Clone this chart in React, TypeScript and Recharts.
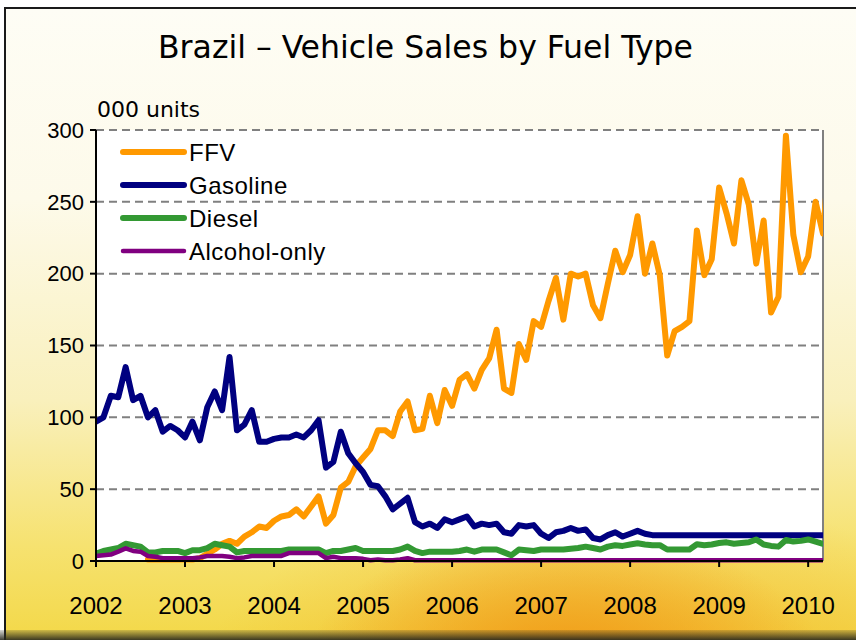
import React from "react";
import { LineChart, Line, XAxis, YAxis, CartesianGrid, ReferenceLine } from "recharts";

// Monthly data, Jan 2002 (index 0) .. Apr 2010 (index 99), thousand units
const ffv: (number | null)[] = [
  null, null, null, null, null, null, null, 1, 1, 1,
  1, 1, 1, 1, 2, 5, 8, 12, 14, 12,
  17, 20, 24, 23, 28, 31, 32, 36, 31, 38,
  45, 26, 32, 51, 55, 66, 72, 78, 91, 91,
  87, 104, 111, 91, 92, 115, 96, 119, 108, 126,
  130, 120, 133, 141, 161, 120, 117, 151, 140, 167,
  163, 181, 197, 168, 200, 198, 200, 178, 169, 193,
  216, 201, 213, 240, 200, 221, 199, 143, 160, 163,
  167, 230, 199, 210, 260, 242, 221, 265, 248, 207,
  237, 173, 184, 296, 227, 201, 212, 250, 228, 290,
];

const gasoline: number[] = [
  97, 100, 115, 114, 135, 112, 115, 100, 105, 90,
  94, 91, 86, 97, 84, 107, 118, 105, 142, 91,
  95, 105, 83, 83, 85, 86, 86, 88, 86, 91,
  98, 65, 69, 90, 75, 68, 62, 53, 52, 45,
  36, 40, 44, 27, 24, 26, 23, 29, 27, 29,
  31, 24, 26, 25, 26, 20, 19, 25, 24, 25,
  19, 16, 20, 21, 23, 21, 22, 16, 15, 18,
  20, 17, 19, 21, 19, 18, 18, 18, 18, 18,
  18, 18, 18, 18, 18, 18, 18, 18, 18, 18,
  18, 18, 18, 18, 18, 18, 18, 18, 18, 18,
];

const diesel: number[] = [
  5, 7, 8, 9, 12, 11, 10, 6, 6, 7,
  7, 7, 5.5, 7.5, 7.5, 9, 12, 11, 10, 6,
  7, 7, 7, 7, 7, 7, 8, 8, 8, 8,
  8, 5.5, 7, 7, 8, 9, 7, 7, 7, 7,
  7, 8, 10, 7, 5.5, 6.5, 6.5, 6.5, 6.5, 7,
  8, 6.5, 8, 8, 8, 6, 4, 8, 7.5, 7,
  8, 8, 8, 8, 8.6, 9, 10, 9, 8, 10,
  11, 10.5, 11.5, 12.3, 11.5, 11, 11, 8, 8, 8,
  8, 11.6, 11, 11.5, 12.5, 13, 12, 12.5, 13, 15,
  11.5, 10.5, 10, 14.6, 13.5, 14, 15, 13.5, 12, 12,
];

const alcohol: number[] = [
  3.5, 4, 4.5, 6.5, 8.8, 7, 6.5, 3.5, 3, 2,
  2, 2, 2, 2, 2.5, 3.5, 3.5, 3.5, 3, 2,
  2.5, 3.5, 3.5, 3.5, 3.5, 3.5, 5.5, 5.5, 5.5, 5.5,
  5.5, 2, 3, 2, 2, 2, 1.5, 0.5, 1, 0.5,
  0.5, 1, 2, 0.5, 0.5, 0.5, 0.5, 0.5, 0.5, 0.5,
  0.5, 0.5, 0.5, 0.5, 0.5, 0.5, 0.5, 0.5, 0.5, 0.5,
  0.5, 0.5, 0.5, 0.5, 0.5, 0.5, 0.5, 0.5, 0.5, 0.5,
  0.5, 0.5, 0.5, 0.5, 0.5, 0.5, 0.5, 0.5, 0.5, 0.5,
  0.5, 0.5, 0.5, 0.5, 0.5, 0.5, 0.5, 0.5, 0.5, 0.5,
  0.5, 0.5, 0.5, 0.5, 0.5, 0.5, 0.5, 0.5, 0.5, 0.5,
];

const yearLabels = ["2002", "2003", "2004", "2005", "2006", "2007", "2008", "2009", "2010"];
const yTicks = [0, 50, 100, 150, 200, 250, 300];
const lastMonthIndex = 98; // Mar 2010 at the right edge of the plot

const series = [
  { key: "ffv", name: "FFV", color: "#FF9900", width: 6 },
  { key: "gasoline", name: "Gasoline", color: "#000080", width: 6 },
  { key: "diesel", name: "Diesel", color: "#339933", width: 6 },
  { key: "alcohol", name: "Alcohol-only", color: "#800080", width: 4.5 },
];

const data = gasoline.map((g, i) => ({
  m: i,
  ffv: ffv[i],
  gasoline: g,
  diesel: diesel[i],
  alcohol: alcohol[i],
}));

const xTicks = yearLabels.map((_, i) => i * 12);
const FONT = "'Liberation Sans', Arial, sans-serif";

export default function App() {
  return (
    <div
      style={{
        position: "absolute",
        left: 0,
        top: 0,
        width: 856,
        height: 640,
        overflow: "hidden",
        background: "#ffffff",
      }}
    >
      {/* slide background */}
      <div
        style={{
          position: "absolute",
          left: 4,
          top: 7,
          right: 0,
          bottom: 0,
          borderTop: "2px solid #1a1a1a",
          borderLeft: "2px solid #1a1a1a",
          background:
            "radial-gradient(ellipse 260px 140px at 560px 660px, rgba(240,150,20,0.95), rgba(240,160,30,0) 100%)," +
            "radial-gradient(ellipse 420px 220px at 600px 700px, rgba(244,180,40,0.9), rgba(244,190,50,0) 100%)," +
            "linear-gradient(to bottom, #fefdf5 0%, #fdfaea 30%, #f9f0bc 62%, #f6e270 85%, #f3d848 100%)",
        }}
      />
      <div
        style={{
          position: "absolute",
          left: 0,
          right: 0,
          top: 630,
          height: 10,
          background: "linear-gradient(to bottom, rgba(60,60,40,0.2), rgba(40,40,30,0.9))",
        }}
      />
      <div style={{ position: "absolute", left: 0, top: 0 }}>
        <LineChart
          width={856}
          height={640}
          data={data}
          margin={{ top: 130, right: 33, bottom: 39, left: 36 }}
        >
          <CartesianGrid
            vertical={false}
            stroke="#808080"
            strokeWidth={2}
            strokeDasharray="8 5"
            fill="#ffffff"
            fillOpacity={1}
          />
          <XAxis
            type="number"
            dataKey="m"
            domain={[0, lastMonthIndex]}
            allowDataOverflow
            ticks={xTicks}
            interval={0}
            tickFormatter={(v: number) => yearLabels[Math.round(v / 12)]}
            height={40}
            axisLine={{ stroke: "#000", strokeWidth: 2 }}
            tickLine={{ stroke: "#000", strokeWidth: 2 }}
            tickSize={6}
            tickMargin={30}
            tick={{ fill: "#000", fontSize: 24, fontFamily: FONT }}
          />
          <YAxis
            domain={[0, 300]}
            ticks={yTicks}
            interval={0}
            width={60}
            axisLine={{ stroke: "#000", strokeWidth: 2 }}
            tickLine={{ stroke: "#000", strokeWidth: 2 }}
            tickSize={6}
            tickMargin={6}
            tick={{ fill: "#000", fontSize: 22, fontFamily: FONT }}
          />
          <ReferenceLine x={lastMonthIndex} stroke="#808080" strokeWidth={2} ifOverflow="visible" />
          {series.map((s) => (
            <Line
              key={s.key}
              type="linear"
              dataKey={s.key}
              name={s.name}
              stroke={s.color}
              strokeWidth={s.width}
              dot={false}
              activeDot={false}
              connectNulls={false}
              isAnimationActive={false}
              strokeLinejoin="round"
              strokeLinecap="round"
            />
          ))}
        </LineChart>
      </div>
      {/* titles and legend */}
      <svg
        width={856}
        height={640}
        style={{ position: "absolute", left: 0, top: 0, pointerEvents: "none" }}
      >
        <text
          x={158}
          y={58}
          fontSize={32}
          fontFamily="'DejaVu Sans Condensed', 'DejaVu Sans', sans-serif"
          fill="#000"
          textLength={535}
          lengthAdjust="spacingAndGlyphs"
        >
          Brazil – Vehicle Sales by Fuel Type
        </text>
        <text
          x={97}
          y={117}
          fontSize={22}
          fontFamily="'DejaVu Sans Condensed', 'DejaVu Sans', sans-serif"
          fill="#000"
          textLength={103}
          lengthAdjust="spacingAndGlyphs"
        >
          000 units
        </text>
        {series.map((s, i) => {
          const y = 152 + i * 33;
          return (
            <g key={s.key}>
              <line
                x1={123}
                x2={184}
                y1={y}
                y2={y}
                stroke={s.color}
                strokeWidth={s.width}
                strokeLinecap="round"
              />
              <text
                x={189}
                y={y + 8.5}
                fontSize={24}
                fontFamily={FONT}
                letterSpacing={0.5}
                fill="#000"
              >
                {s.name}
              </text>
            </g>
          );
        })}
      </svg>
    </div>
  );
}
